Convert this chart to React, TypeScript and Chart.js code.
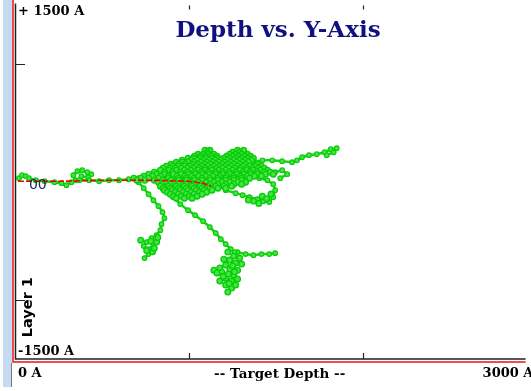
import React, { useEffect, useRef } from "react";
import { Chart, registerables } from "chart.js";

Chart.register(...registerables);

// ---- axis / labels ----
const xRange = [0, 2932];
const yRange = [-1500, 1500];
const xTicks = [1000, 2000];
const yTicks = [1000, -1000];
const titleText = "Depth vs. Y-Axis";
const yTopLabel = "+ 1500 A";
const yBottomLabel = "-1500 A";
const xStartLabel = "0 A";
const xEndLabel = "3000 A";
const xAxisTitle = "-- Target Depth --";
const zeroLabel = "00";
const layerLabel = "Layer 1";

// ---- red reference track ----
const redTrack = [
  { x: 17, y: 8 }, { x: 256, y: 8 }, { x: 483, y: 17 }, { x: 767, y: 17 },
  { x: 994, y: 8 }, { x: 1079, y: -8 }, { x: 1125, y: -34 },
];

// ---- green branches ----
const trunk = [
  { x: 23, y: 34 }, { x: 40, y: 59 }, { x: 62, y: 51 }, { x: 80, y: 34 }, { x: 119, y: 17 }, { x: 170, y: 8 },
  { x: 227, y: 0 }, { x: 267, y: -8 }, { x: 295, y: -25 }, { x: 324, y: 0 }, { x: 369, y: 17 },
  { x: 426, y: 17 }, { x: 483, y: 8 }, { x: 540, y: 17 }, { x: 597, y: 17 }, { x: 653, y: 25 },
  { x: 710, y: 34 },
];
const smallBlob = [
  { x: 347, y: 17 }, { x: 335, y: 59 }, { x: 358, y: 93 }, { x: 386, y: 102 }, { x: 415, y: 85 },
  { x: 438, y: 68 }, { x: 420, y: 42 }, { x: 381, y: 51 },
];
const upperRight = [
  { x: 1364, y: 170 }, { x: 1421, y: 186 }, { x: 1477, y: 186 }, { x: 1534, y: 178 },
  { x: 1591, y: 170 }, { x: 1619, y: 186 }, { x: 1648, y: 212 }, { x: 1688, y: 229 },
  { x: 1733, y: 237 }, { x: 1778, y: 254 }, { x: 1813, y: 280 }, { x: 1847, y: 288 },
  { x: 1830, y: 254 }, { x: 1790, y: 229 },
];
const middleRight = [
  { x: 1403, y: 119 }, { x: 1449, y: 102 }, { x: 1494, y: 85 }, { x: 1534, y: 102 },
  { x: 1563, y: 68 }, { x: 1523, y: 34 },
];
const lowerRight = [
  { x: 1364, y: 68 }, { x: 1403, y: 34 }, { x: 1449, y: 17 }, { x: 1483, y: -17 },
  { x: 1494, y: -68 }, { x: 1483, y: -127 }, { x: 1460, y: -169 }, { x: 1426, y: -161 },
  { x: 1392, y: -144 }, { x: 1347, y: -127 }, { x: 1307, y: -110 }, { x: 1267, y: -93 },
  { x: 1210, y: -68 },
];
const lowerRightBlob = [
  { x: 1420, y: -120 }, { x: 1445, y: -140 }, { x: 1400, y: -180 }, { x: 1370, y: -160 },
  { x: 1340, y: -150 }, { x: 1470, y: -100 },
];
const diagonal = [
  { x: 909, y: -127 }, { x: 949, y: -186 }, { x: 994, y: -237 }, { x: 1034, y: -280 },
  { x: 1080, y: -331 }, { x: 1119, y: -381 }, { x: 1153, y: -432 }, { x: 1182, y: -483 },
  { x: 1210, y: -525 }, { x: 1239, y: -568 }, { x: 1261, y: -593 },
];
const bottomSpur = [
  { x: 1278, y: -593 }, { x: 1324, y: -610 }, { x: 1369, y: -619 }, { x: 1415, y: -610 },
  { x: 1460, y: -610 }, { x: 1494, y: -602 },
];
const bottomBlob = [
  { x: 1222, y: -593 }, { x: 1256, y: -627 }, { x: 1290, y: -644 }, { x: 1233, y: -661 },
  { x: 1267, y: -686 }, { x: 1210, y: -703 }, { x: 1176, y: -729 }, { x: 1142, y: -746 },
  { x: 1188, y: -763 }, { x: 1233, y: -737 }, { x: 1278, y: -746 }, { x: 1256, y: -788 },
  { x: 1210, y: -814 }, { x: 1176, y: -839 }, { x: 1244, y: -839 }, { x: 1278, y: -822 },
  { x: 1210, y: -873 }, { x: 1244, y: -898 }, { x: 1267, y: -873 }, { x: 1222, y: -932 },
  { x: 1301, y: -695 }, { x: 1199, y: -653 }, { x: 1250, y: -710 }, { x: 1225, y: -780 },
  { x: 1195, y: -800 }, { x: 1260, y: -760 }, { x: 1230, y: -860 }, { x: 1160, y: -770 },
];
const leftDown = [
  { x: 710, y: 0 }, { x: 739, y: -51 }, { x: 767, y: -102 }, { x: 795, y: -153 },
  { x: 824, y: -203 }, { x: 847, y: -254 }, { x: 858, y: -305 }, { x: 841, y: -356 },
  { x: 835, y: -407 }, { x: 813, y: -449 }, { x: 784, y: -475 }, { x: 756, y: -508 },
  { x: 739, y: -542 }, { x: 767, y: -568 }, { x: 795, y: -534 }, { x: 767, y: -610 },
  { x: 744, y: -644 },
];
const leftBlob = [
  { x: 813, y: -508 }, { x: 722, y: -492 }, { x: 790, y: -590 }, { x: 756, y: -580 },
  { x: 820, y: -470 }, { x: 780, y: -500 }, { x: 800, y: -560 },
];

// ---- dense central cluster (rows of y with x values) ----
const clusterY = [
  271, 254, 237, 220, 203, 187, 170, 153, 136, 119, 102, 85, 68, 51, 34, 17, 0,
  -17, -34, -51, -68, -85, -102, -119, -136,
];
const clusterX = [
  [1091, 1119, 1278, 1313],
  [1105, 1250, 1290],
  [1051, 1080, 1108, 1142, 1233, 1267, 1301, 1335],
  [1030, 1065, 1095, 1125, 1160, 1215, 1250, 1284, 1318, 1352],
  [994, 1028, 1063, 1097, 1131, 1165, 1199, 1233, 1267, 1301, 1335, 1369],
  [960, 1011, 1045, 1080, 1114, 1150, 1182, 1220, 1256, 1290, 1324, 1358],
  [926, 960, 994, 1028, 1068, 1102, 1136, 1170, 1205, 1239, 1273, 1307, 1341],
  [895, 940, 977, 1017, 1050, 1088, 1120, 1155, 1190, 1222, 1256, 1290, 1324, 1392],
  [869, 903, 938, 972, 1006, 1040, 1074, 1108, 1142, 1176, 1210, 1244, 1278, 1313, 1347, 1381, 1415],
  [850, 890, 920, 955, 990, 1023, 1057, 1090, 1125, 1160, 1193, 1227, 1261, 1296, 1330, 1364, 1398, 1432],
  [835, 881, 926, 972, 1011, 1051, 1091, 1131, 1170, 1210, 1250, 1290, 1330, 1369, 1409, 1449],
  [800, 860, 903, 949, 990, 1030, 1070, 1110, 1150, 1190, 1230, 1270, 1310, 1350, 1390, 1430, 1466],
  [767, 813, 858, 909, 955, 994, 1034, 1074, 1114, 1153, 1193, 1233, 1273, 1313, 1352, 1392, 1438, 1483],
  [740, 790, 835, 880, 930, 975, 1015, 1055, 1095, 1135, 1175, 1215, 1255, 1295, 1335, 1375, 1415],
  [682, 722, 767, 824, 881, 938, 983, 1028, 1074, 1119, 1165, 1210, 1256, 1301, 1347],
  [700, 745, 800, 850, 895, 940, 985, 1030, 1075, 1120, 1165, 1210, 1255, 1300],
  [824, 869, 915, 960, 1006, 1051, 1097, 1142, 1188, 1233, 1278, 1324],
  [845, 892, 938, 983, 1028, 1074, 1119, 1165, 1210, 1256, 1301],
  [835, 881, 926, 972, 1017, 1063, 1108, 1153, 1199, 1244],
  [850, 892, 938, 983, 1028, 1074, 1119, 1165, 1210],
  [858, 903, 949, 994, 1040, 1085, 1131],
  [875, 920, 965, 1011, 1057, 1100],
  [892, 938, 983, 1028, 1074],
  [910, 955, 1000, 1045],
  [926, 972, 1017],
];

const GREEN_LINE = "rgb(20,212,20)";
const GREEN_FILL = "rgb(70,228,70)";
const GREEN_EDGE = "rgb(8,205,8)";
const SERIF = "'DejaVu Serif', serif";

const decorPlugin = {
  id: "decor",
  beforeDraw(chart: any) {
    const { ctx, width, height } = chart;
    ctx.save();
    ctx.fillStyle = "#ffffff";
    ctx.fillRect(0, 0, width, height);
    ctx.fillStyle = "rgb(196,218,240)";
    ctx.fillRect(3, 0, 9, 387);
    ctx.restore();
  },
  afterDraw(chart: any) {
    const { ctx, chartArea, scales } = chart;
    const xs = scales.x;
    const ys = scales.y;
    const L = chartArea.left;
    const R = chartArea.right;
    const T = chartArea.top;
    const B = chartArea.bottom;
    ctx.save();
    // red frame
    ctx.strokeStyle = "rgb(235,20,20)";
    ctx.lineWidth = 1.5;
    ctx.beginPath();
    ctx.moveTo(L - 2, 0);
    ctx.lineTo(L - 2, B + 3);
    ctx.lineTo(R, B + 3);
    ctx.stroke();
    ctx.strokeStyle = "rgb(120,120,120)";
    ctx.lineWidth = 1;
    ctx.beginPath();
    ctx.moveTo(L - 3.5, B + 4);
    ctx.lineTo(L - 3.5, B + 28);
    ctx.stroke();
    // black axes
    ctx.strokeStyle = "#222";
    ctx.lineWidth = 1.5;
    ctx.beginPath();
    ctx.moveTo(L + 0.5, T - 2);
    ctx.lineTo(L + 0.5, B);
    ctx.lineTo(R, B);
    ctx.stroke();
    // ticks
    ctx.lineWidth = 1.2;
    ctx.beginPath();
    yTicks.forEach((v) => {
      const py = Math.round(ys.getPixelForValue(v)) + 0.5;
      ctx.moveTo(L, py);
      ctx.lineTo(L + 10, py);
    });
    xTicks.forEach((v) => {
      const px = Math.round(xs.getPixelForValue(v)) + 0.5;
      ctx.moveTo(px, B);
      ctx.lineTo(px, B - 6);
      ctx.moveTo(px, T);
      ctx.lineTo(px, T + 4);
    });
    ctx.stroke();

    // texts
    ctx.fillStyle = "#000";
    ctx.font = "bold 13px " + SERIF;
    ctx.textAlign = "left";
    ctx.textBaseline = "top";
    ctx.fillText(yTopLabel, L + 3, T);
    ctx.textBaseline = "bottom";
    ctx.fillText(yBottomLabel, L + 3, B - 1);
    ctx.textBaseline = "middle";
    ctx.fillText(xStartLabel, L + 3, B + 15);
    ctx.fillText(xEndLabel, xs.getPixelForValue(2685), B + 15);
    ctx.textAlign = "center";
    ctx.font = "bold 13.5px " + SERIF;
    ctx.fillText(xAxisTitle, xs.getPixelForValue(1520), B + 15);

    // title
    ctx.fillStyle = "rgb(16,16,128)";
    ctx.font = "bold 23px " + SERIF;
    ctx.textAlign = "center";
    ctx.textBaseline = "middle";
    ctx.fillText(titleText, 278, 31);

    // zero label
    ctx.fillStyle = "rgb(30,40,100)";
    ctx.font = "14px 'DejaVu Sans', sans-serif";
    ctx.textAlign = "left";
    ctx.textBaseline = "middle";
    ctx.fillText(zeroLabel, xs.getPixelForValue(80), ys.getPixelForValue(0) + 3);

    // layer label
    ctx.fillStyle = "#000";
    ctx.font = "bold 14.5px 'DejaVu Sans', sans-serif";
    ctx.translate(L + 13, ys.getPixelForValue(-1060));
    ctx.rotate(-Math.PI / 2);
    ctx.textAlign = "center";
    ctx.textBaseline = "middle";
    ctx.fillText(layerLabel, 0, 0);
    ctx.restore();
  },
};

function branch(data: { x: number; y: number }[]) {
  return {
    data,
    showLine: true,
    borderColor: GREEN_LINE,
    borderWidth: 2.5,
    pointRadius: 2.3,
    pointBackgroundColor: GREEN_FILL,
    pointBorderColor: GREEN_EDGE,
    pointBorderWidth: 1.2,
    order: 2,
  };
}

function blob(data: { x: number; y: number }[]) {
  return {
    data,
    pointRadius: 2.8,
    pointBackgroundColor: GREEN_FILL,
    pointBorderColor: GREEN_EDGE,
    pointBorderWidth: 1.4,
    order: 1,
  };
}

export default function App() {
  const ref = useRef<HTMLCanvasElement | null>(null);
  useEffect(() => {
    if (!ref.current) return;
    const clusterPts: { x: number; y: number }[] = [];
    clusterY.forEach((y, i) => clusterX[i].forEach((x) => clusterPts.push({ x, y })));
    const chart = new Chart(ref.current, {
      type: "scatter",
      data: {
        datasets: [
          {
            data: redTrack,
            showLine: true,
            borderColor: "rgb(240,0,0)",
            borderWidth: 1.6,
            borderDash: [6, 2],
            pointRadius: 0,
            order: 0,
          } as any,
          blob(clusterPts),
          branch(trunk),
          branch(smallBlob),
          branch(upperRight),
          branch(middleRight),
          branch(lowerRight),
          blob(lowerRightBlob),
          branch(diagonal),
          branch(bottomSpur),
          blob(bottomBlob),
          branch(leftDown),
          blob(leftBlob),
        ],
      },
      options: {
        responsive: false,
        devicePixelRatio: 1,
        animation: false,
        layout: { padding: { left: 15, right: 0, top: 3, bottom: 32 } },
        plugins: { legend: { display: false }, tooltip: { enabled: false }, title: { display: false } },
        scales: {
          x: { type: "linear", min: xRange[0], max: xRange[1], display: false },
          y: { type: "linear", min: yRange[0], max: yRange[1], display: false },
        },
      },
      plugins: [decorPlugin],
    } as any);
    return () => chart.destroy();
  }, []);
  return (
    <div style={{ position: "fixed", left: 0, top: 0, width: 531, height: 391, background: "#fff" }}>
      <canvas ref={ref} width={531} height={391} style={{ display: "block" }} />
    </div>
  );
}
